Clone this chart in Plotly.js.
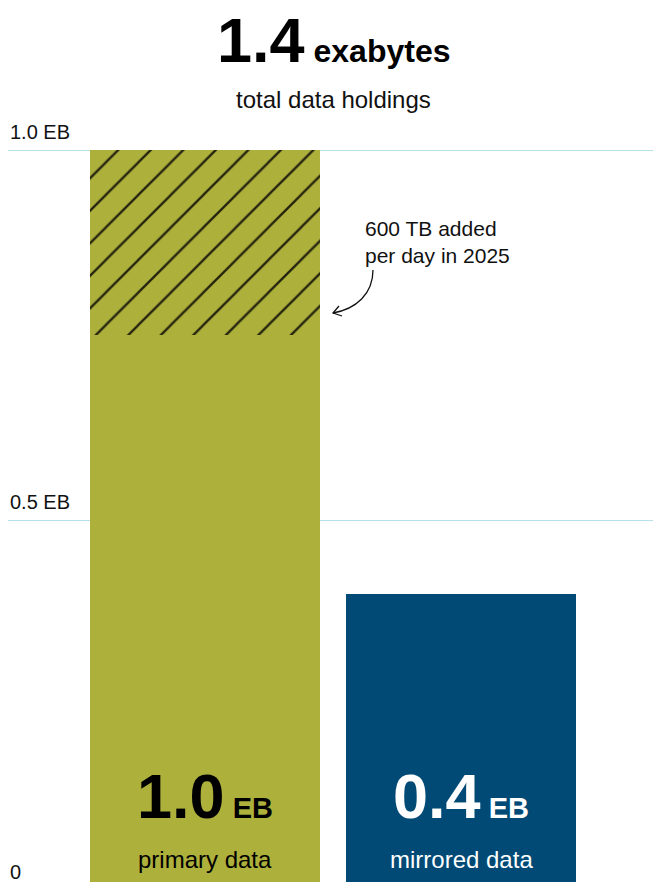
<!DOCTYPE html>
<html>
<head>
<meta charset="utf-8">
<script src="https://cdn.plot.ly/plotly-3.0.1.min.js"></script>
<style>html,body{margin:0;padding:0;background:#fff;}#chart{width:653px;height:882px;}</style>
</head>
<body>
<div id="chart"></div>
<script>
// ---- data ----
const categories = ['primary data', 'mirrored data'];
const baseValues = [0.75, 0.4];      // EB, solid part
const recentValues = [0.25, 0];      // EB, hatched part (recent additions)
const totalValues = [1.0, 0.4];      // EB
const totalHoldings = 1.4;           // EB
const tickValues = [0, 0.5, 1.0];
const tickLabels = ['0', '0.5 EB', '1.0 EB'];
const noteText = '600 TB added<br>per day in 2025';

// ---- style ----
const OLIVE = '#AEB03C';
const NAVY = '#004A75';
const HATCH = '#23230E';
const GRID = '#B4E2E8';
const FONT = 'Liberation Sans, Arial, sans-serif';
const W = 653, H = 882, ML = 8;
const yRange = [8 / 740, 890 / 740];
const xRange = [-197 / 256, 448 / 256];
const barWidth = 230 / 256;

function paperX(px) { return (px - ML) / (W - ML); }
function paperY(py) { return 1 - py / H; }
function valToPaperY(v) { return (v - yRange[0]) / (yRange[1] - yRange[0]); }

const traces = [
  {
    type: 'bar', x: categories, y: baseValues, width: barWidth,
    marker: {color: [OLIVE, NAVY], line: {width: 0}}, hoverinfo: 'skip'
  },
  {
    type: 'bar', x: categories, y: recentValues, width: barWidth,
    marker: {color: OLIVE, line: {width: 0},
      pattern: {shape: '/', fgcolor: HATCH, bgcolor: OLIVE, fgopacity: 1, size: 23, solidity: 0.1, fillmode: 'replace'}},
    hoverinfo: 'skip'
  }
];

const annotations = [];
// title
annotations.push({
  xref: 'paper', yref: 'paper', x: paperX(333), y: paperY(40), xanchor: 'center', yanchor: 'middle',
  showarrow: false,
  text: "<b><span style='font-size:63px'>" + totalHoldings.toFixed(1) + "</span><span style='font-size:32px'> exabytes</span></b>",
  font: {family: FONT, size: 32, color: '#000'}
});
annotations.push({
  xref: 'paper', yref: 'paper', x: paperX(333), y: paperY(100), xanchor: 'center', yanchor: 'middle',
  showarrow: false, text: 'total data holdings',
  font: {family: FONT, size: 24, color: '#111'}
});
// y tick labels
tickValues.forEach((v, i) => {
  annotations.push({
    xref: 'paper', yref: 'paper', x: 0, y: valToPaperY(v), xanchor: 'left', yanchor: 'middle',
    yshift: 18, showarrow: false, text: tickLabels[i],
    font: {family: FONT, size: 20, color: '#111'}
  });
});
// bar labels
const textColors = ['#000', '#fff'];
categories.forEach((c, i) => {
  annotations.push({
    xref: 'x', yref: 'paper', x: c, y: paperY(796), xanchor: 'center', yanchor: 'middle',
    showarrow: false,
    text: "<b><span style='font-size:63px'>" + totalValues[i].toFixed(1) + "</span><span style='font-size:29px'> EB</span></b>",
    font: {family: FONT, size: 29, color: textColors[i]}
  });
  annotations.push({
    xref: 'x', yref: 'paper', x: c, y: paperY(859), xanchor: 'center', yanchor: 'middle',
    showarrow: false, text: c,
    font: {family: FONT, size: 24, color: textColors[i]}
  });
});
// note
annotations.push({
  xref: 'paper', yref: 'paper', x: paperX(363), y: paperY(242), xanchor: 'left', yanchor: 'middle',
  showarrow: false, align: 'left', text: noteText,
  font: {family: FONT, size: 21, color: '#111'}
});

function P(px, py) { return paperX(px).toFixed(5) + ',' + paperY(py).toFixed(5); }
const shapes = [
  {type: 'path', xref: 'paper', yref: 'paper',
   path: 'M' + P(373, 270) + ' C' + P(373, 294) + ' ' + P(356, 309) + ' ' + P(333, 313),
   line: {color: '#111', width: 1.3}},
  {type: 'path', xref: 'paper', yref: 'paper',
   path: 'M' + P(339, 306) + ' L' + P(333, 313) + ' L' + P(342, 316),
   line: {color: '#111', width: 1.3}}
];

const layout = {
  width: W, height: H,
  margin: {l: ML, r: 0, t: 0, b: 0, pad: 0},
  paper_bgcolor: '#fff', plot_bgcolor: '#fff',
  barmode: 'stack', showlegend: false,
  xaxis: {type: 'category', range: xRange, showgrid: false, zeroline: false, showticklabels: false, showline: false, ticks: ''},
  yaxis: {range: yRange, tickvals: [0.5, 1.0], showticklabels: false, gridcolor: GRID, gridwidth: 1, zeroline: false, showline: false, ticks: ''},
  annotations: annotations,
  shapes: shapes,
  font: {family: FONT}
};

Plotly.newPlot('chart', traces, layout, {staticPlot: true, displayModeBar: false});
</script>
</body>
</html>
